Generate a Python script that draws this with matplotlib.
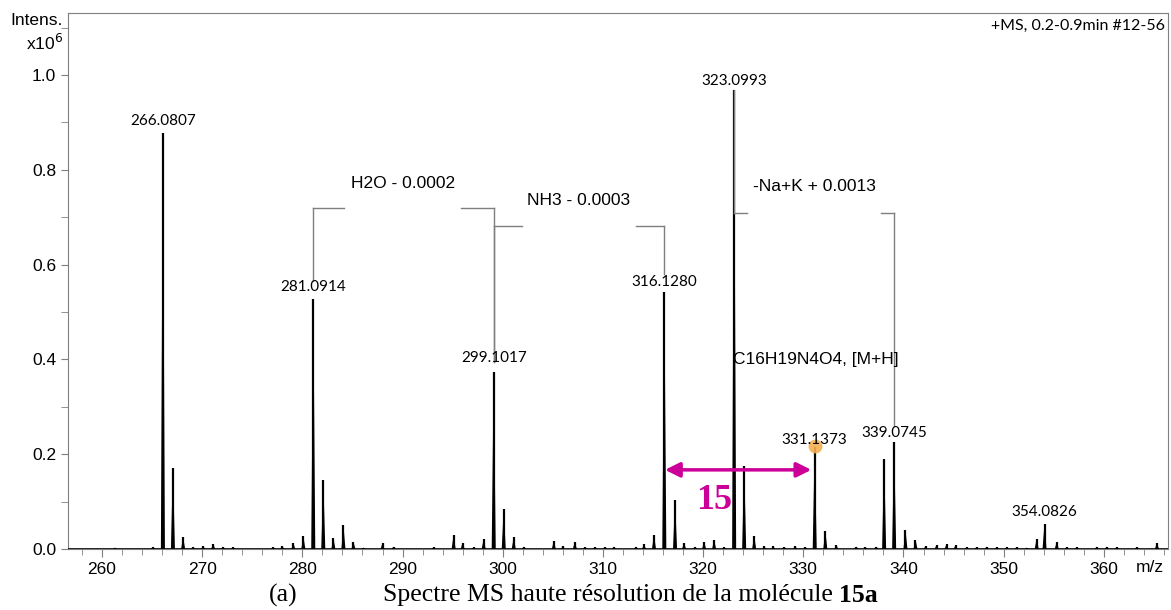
import numpy as np
import matplotlib.pyplot as plt

# peak positions (m/z) and intensities (x10^6)
mz = [261.3, 265.1, 266.08, 267.08, 268.1, 269.1, 270.1, 271.1, 272.1, 273.1,
      277.1, 278.0, 279.1, 280.1, 281.09, 282.09, 283.1, 284.1, 285.1, 286.1,
      288.0, 289.1, 293.1, 295.1, 296.0, 297.1, 298.1, 299.10, 300.1, 301.1,
      302.1, 305.1, 306.0, 307.2, 308.2, 309.2, 310.2, 311.1, 313.3, 314.1,
      315.1, 316.13, 317.2, 318.1, 319.2, 320.1, 321.1, 322.1, 323.10, 324.1,
      325.1, 326.1, 327.0, 328.1, 329.2, 330.2, 331.14, 332.2, 333.3, 335.3,
      336.2, 337.3, 338.07, 339.07, 340.2, 341.2, 342.2, 343.3, 344.3, 345.2,
      346.3, 347.3, 348.3, 349.3, 350.3, 351.3, 352.3, 353.3, 354.08, 355.3,
      356.3, 357.3, 359.3, 360.3, 361.3, 363.3, 365.3]
intens = [0.003, 0.005, 0.877, 0.170, 0.025, 0.005, 0.006, 0.011, 0.004, 0.004,
          0.004, 0.006, 0.012, 0.027, 0.527, 0.146, 0.023, 0.050, 0.015, 0.003,
          0.012, 0.005, 0.004, 0.030, 0.013, 0.004, 0.021, 0.373, 0.084, 0.025,
          0.005, 0.017, 0.006, 0.015, 0.004, 0.004, 0.004, 0.005, 0.005, 0.010,
          0.030, 0.542, 0.103, 0.013, 0.005, 0.015, 0.019, 0.004, 0.968, 0.175,
          0.028, 0.006, 0.006, 0.004, 0.006, 0.004, 0.215, 0.038, 0.008, 0.005,
          0.004, 0.005, 0.190, 0.225, 0.040, 0.020, 0.006, 0.008, 0.010, 0.008,
          0.004, 0.004, 0.005, 0.004, 0.004, 0.004, 0.003, 0.022, 0.053, 0.015,
          0.004, 0.004, 0.005, 0.005, 0.004, 0.004, 0.013]

labels = ["266.0807", "281.0914", "299.1017", "316.1280", "323.0993",
          "331.1373", "339.0745", "354.0826"]
label_mz = [266.08, 281.09, 299.10, 316.13, 323.10, 331.14, 339.07, 354.08]
label_y = [0.903, 0.553, 0.403, 0.563, 0.987, 0.230, 0.245, 0.078]

# loss brackets: left peak, right peak, bar height, text, text height
br_left = [281.09, 299.10, 323.10]
br_right = [299.10, 316.13, 339.07]
br_y = [0.720, 0.681, 0.709]
br_text = ["H2O - 0.0002", "NH3 - 0.0003", "-Na+K + 0.0013"]
br_text_y = [0.772, 0.735, 0.764]
br_seg = [(3.1, 3.3), (2.8, 2.8), (1.3, 1.3)]
br_low = [(0.565, 0.395), (0.395, 0.58), (0.968, 0.26)]

fig = plt.figure(figsize=(11.71, 6.10), dpi=100)
ax = fig.add_axes([0.058, 0.1, 0.9394, 0.8787])

w = 0.2
for m, h in zip(mz, intens):
    ax.fill([m - w, m, m + w], [0, h, 0], color="black", lw=0)
    ax.vlines(m, 0, h, color="black", lw=1.6)
ax.axhline(0, color="black", lw=1.2, zorder=3)

for m, txt, y in zip(label_mz, labels, label_y):
    ax.text(m, y, txt, ha="center", va="center", fontsize=11, family="Lato")

gray = "#7f7f7f"
for a, b, yb, txt, yt, (sa, sb), (la, lb) in zip(br_left, br_right, br_y, br_text,
                                                   br_text_y, br_seg, br_low):
    ax.plot([a, a], [la, yb], color=gray, lw=1)
    ax.plot([b, b], [lb, yb], color=gray, lw=1)
    ax.plot([a, a + sa], [yb, yb], color=gray, lw=1)
    ax.plot([b - sb, b], [yb, yb], color=gray, lw=1)
    ax.text((a + b) / 2, yt, txt, ha="center", va="center", fontsize=12.5,
            family="Liberation Sans")

ax.text(331.3, 0.40, "C16H19N4O4, [M+H]", ha="center", va="center",
        fontsize=12.5, family="Liberation Sans")

ax.plot(331.14, 0.218, "o", ms=10, color="#F5B050", alpha=0.9, mec="none")

mag = "#CC0099"
ax.annotate("", xy=(330.8, 0.167), xytext=(316.2, 0.167),
            arrowprops=dict(arrowstyle="<|-|>", color=mag, lw=2.5,
                            mutation_scale=22, shrinkA=0, shrinkB=0))
ax.text(321.1, 0.103, "15", color=mag, ha="center", va="center",
        fontsize=26, fontweight="bold", family="Liberation Serif")

ax.set_xlim(256.6, 366.4)
ax.set_ylim(0, 1.131)
ax.set_xticks(np.arange(260, 361, 10))
ax.set_xticks(np.arange(258, 367, 2), minor=True)
ax.set_yticks(np.arange(0, 1.01, 0.2))
ax.set_yticklabels(["0.0", "0.2", "0.4", "0.6", "0.8", "1.0"])
ax.set_yticks(np.arange(0.1, 1.15, 0.2), minor=True)
for s in ax.spines.values():
    s.set_color(gray)
ax.tick_params(which="both", colors=gray, labelcolor="black", labelsize=12.5)
ax.tick_params(axis="x", which="major", length=6)
ax.tick_params(axis="x", which="minor", length=4)
ax.tick_params(axis="y", which="both", length=5)
for t in ax.get_xticklabels() + ax.get_yticklabels():
    t.set_family("Liberation Sans")

fig.text(0.054, 0.967, "Intens.", ha="right", va="center", fontsize=12.5,
         family="Liberation Sans")
fig.text(0.054, 0.93, r"x10$^{6}$", ha="right", va="center", fontsize=12.5,
         family="Liberation Sans")
fig.text(0.995, 0.958, "+MS, 0.2-0.9min #12-56", ha="right", va="center",
         fontsize=11.5, family="Lato")
fig.text(0.982, 0.07, "m/z", ha="center", va="center", fontsize=12.5,
         family="Liberation Sans")

fig.text(0.242, 0.024, "(a)", ha="center", va="center", fontsize=18.5,
         family="Liberation Serif")
cap = fig.text(0.327, 0.024, "Spectre MS haute résolution de la molécule ",
               ha="left", va="center", fontsize=18.5, family="Liberation Serif")
fig.canvas.draw()
bb = cap.get_window_extent().transformed(fig.transFigure.inverted())
fig.text(bb.x1, 0.024, "15a", ha="left", va="center", fontsize=18.5,
         fontweight="bold", family="Liberation Serif")

fig.savefig("out.png", dpi=100)
